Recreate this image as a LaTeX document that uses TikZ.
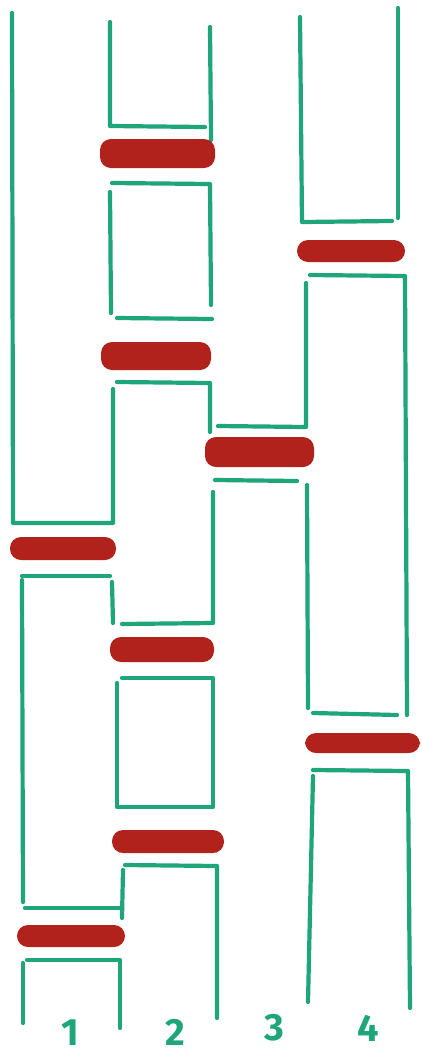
\documentclass[tikz,border=0pt]{standalone}
\usepackage{fontspec}
\setsansfont{Fira Sans}
\begin{document}
\begin{tikzpicture}[x=1pt,y=-1pt,
  wall/.style={draw=gcol,line width=4.2pt,line cap=round,line join=round},
  bar/.style={fill=rcol,rounded corners=11pt},
  digit/.style={text=gcol,font=\sffamily\bfseries\fontsize{38}{38}\selectfont,inner sep=0pt}]
\definecolor{gcol}{RGB}{30,165,122}
\definecolor{rcol}{RGB}{178,34,28}
\useasboundingbox[fill=white] (0,0) rectangle (421,1061);
% column 1
\draw[wall] (12,13) -- (13,523) -- (113,523) -- (113,389);
\path[bar] (10,537) rectangle (116,560);
\draw[wall] (22,576) -- (110,576);
\draw[wall] (112,582) -- (113,623);
\draw[wall] (22,580) -- (23,902);
\draw[wall] (25,908) -- (120,908);
\path[bar] (17,925) rectangle (125,947);
\draw[wall] (23,963) -- (23,1023);
\draw[wall] (27,960) -- (120,960) -- (120,1028);
% column 2
\draw[wall] (110,22) -- (110,126) -- (205,127);
\draw[wall] (210,27) -- (211,140);
\path[bar] (100,139) rectangle (215,168);
\draw[wall] (112,183) -- (210,184) -- (211,305);
\draw[wall] (110,192) -- (111,313);
\draw[wall] (117,318) -- (212,319);
\path[bar] (101,342) rectangle (211,370);
\draw[wall] (117,382) -- (210,383) -- (210,432);
\draw[wall] (213,492) -- (213,623) -- (122,624);
\path[bar] (110,637) rectangle (214,662);
\draw[wall] (122,678) -- (213,678) -- (213,807) -- (117,807) -- (117,683);
\path[bar] (112,830) rectangle (224,853);
\draw[wall] (125,865) -- (217,866) -- (217,1018);
\draw[wall] (123,870) -- (122,918);
% column 3
\path[bar] (205,437) rectangle (314,467);
\draw[wall] (215,480) -- (297,481);
% column 4
\draw[wall] (300,17) -- (302,222) -- (392,221);
\draw[wall] (398,8) -- (398,218);
\path[bar] (297,240) rectangle (405,262);
\draw[wall] (310,275) -- (405,276) -- (407,715);
\draw[wall] (306,283) -- (306,427) -- (218,426);
\draw[wall] (307,485) -- (308,708);
\draw[wall] (313,713) -- (397,715);
\path[bar] (305,733) rectangle (420,753);
\draw[wall] (313,770) -- (408,771) -- (410,1008);
\draw[wall] (313,776) -- (308,1002);
% labels
\node[digit] (n1) at (70,1033) {1};
\node[digit] (n2) at (175,1032) {2};
\node[digit] (n3) at (274,1028) {3};
\node[digit] (n4) at (368,1028) {4};
\end{tikzpicture}
\end{document}
